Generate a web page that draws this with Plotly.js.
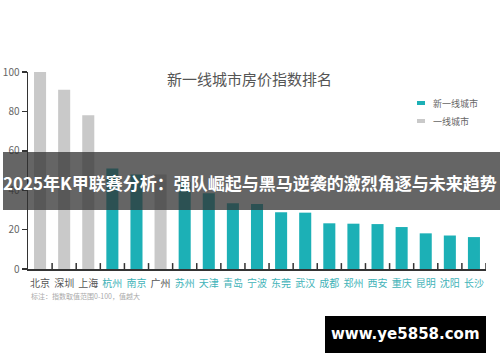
<!DOCTYPE html>
<html>
<head>
<meta charset="utf-8">
<script src="https://cdn.plot.ly/plotly-3.0.1.min.js"></script>
<style>html,body{margin:0;padding:0;background:#fff;}#chart{width:500px;height:362px;}</style>
</head>
<body>
<div id="chart"></div>
<script>
// Data
const cities = ['北京','深圳','上海','杭州','南京','广州','苏州','天津','青岛','宁波','东莞','武汉','成都','郑州','西安','重庆','昆明','沈阳','长沙'];
const tiers = ['一线城市','一线城市','一线城市','新一线城市','新一线城市','一线城市','新一线城市','新一线城市','新一线城市','新一线城市','新一线城市','新一线城市','新一线城市','新一线城市','新一线城市','新一线城市','新一线城市','新一线城市','新一线城市'];
const values = [100, 91, 78, 51, 48, 48, 44.3, 38.4, 33.4, 33, 28.8, 28.6, 23.2, 23, 22.8, 21.3, 18.1, 17, 16.2];
const yTicks = [0, 20, 40, 60, 80, 100];

const TEAL = '#1cb0b6';
const GRAY = '#c9c9c9';
const FONT = 'Noto Sans CJK SC, Noto Sans, sans-serif';

function pick(tier) {
  const x = [], y = [];
  cities.forEach((c, i) => { if (tiers[i] === tier) { x.push(c); y.push(values[i]); } });
  return {x, y};
}
const newT = pick('新一线城市');
const oldT = pick('一线城市');

const traces = [
  {type: 'bar', x: oldT.x, y: oldT.y, name: '一线城市', marker: {color: GRAY}, width: 0.5, hoverinfo: 'x+y'},
  {type: 'bar', x: newT.x, y: newT.y, name: '新一线城市', marker: {color: TEAL}, width: 0.5, hoverinfo: 'x+y'}
];

const tickText = cities.map((c, i) => `<span style="color:${tiers[i] === '一线城市' ? '#555555' : '#3fb3b8'}">${c}</span>`);

const px = (X) => (X - 28) / 458;
const py = (Y) => (269 - Y) / 197;

const layout = {
  width: 500, height: 362,
  margin: {l: 28, r: 14, t: 72, b: 93},
  paper_bgcolor: '#ffffff', plot_bgcolor: '#ffffff',
  showlegend: false,
  barmode: 'overlay',
  font: {family: FONT},
  xaxis: {
    type: 'category', categoryorder: 'array', categoryarray: cities,
    tickvals: cities, ticktext: tickText,
    range: [-0.5, 18.5],
    showline: true, linecolor: '#333', linewidth: 1.5,
    ticks: '', showgrid: false, zeroline: false,
    ticklabelstandoff: 4,
    tickfont: {size: 10, family: FONT},
    fixedrange: true
  },
  yaxis: {
    range: [0, 100], tickvals: yTicks,
    showline: true, linecolor: '#333', linewidth: 1.5,
    ticks: 'outside', ticklen: 5, tickcolor: '#333', tickwidth: 1.5,
    showgrid: false, zeroline: false,
    tickfont: {size: 10, color: '#666', family: FONT},
    fixedrange: true
  },
  shapes: [],
  annotations: [
    {xref: 'paper', yref: 'paper', x: px(249), y: py(91), xanchor: 'center', yanchor: 'bottom', showarrow: false,
     text: '新一线城市房价指数排名', font: {size: 15, color: '#555', family: FONT}}
  ]
};

// category boundary ticks on x axis (pointing up)
for (let i = 0; i < cities.length; i++) {
  layout.shapes.push({type: 'line', xref: 'x', yref: 'paper', x0: i + 0.5, x1: i + 0.5, y0: 0, y1: 0.03, line: {color: '#333', width: 1.5}});
}

// Legend (custom)
layout.shapes.push({type: 'rect', xref: 'paper', yref: 'paper', x0: px(417), x1: px(425), y0: py(105), y1: py(101), fillcolor: TEAL, line: {width: 0}});
layout.shapes.push({type: 'rect', xref: 'paper', yref: 'paper', x0: px(417), x1: px(425), y0: py(123), y1: py(119), fillcolor: GRAY, line: {width: 0}});
layout.annotations.push({xref: 'paper', yref: 'paper', x: px(431), y: py(103), xanchor: 'left', yanchor: 'middle', showarrow: false,
  text: '新一线城市', font: {size: 9, color: '#666', family: FONT}});
layout.annotations.push({xref: 'paper', yref: 'paper', x: px(431), y: py(121), xanchor: 'left', yanchor: 'middle', showarrow: false,
  text: '一线城市', font: {size: 9, color: '#666', family: FONT}});

// Note
layout.annotations.push({xref: 'paper', yref: 'paper', x: px(29), y: py(296), xanchor: 'left', yanchor: 'middle', showarrow: false,
  text: '标注：指数取值范围0-100，值越大', font: {size: 7, color: '#aaa', family: FONT}});

// Overlay band with headline
layout.shapes.push({type: 'rect', xref: 'paper', yref: 'paper', x0: px(3), x1: px(500), y0: py(210), y1: py(152), fillcolor: 'rgba(50,50,50,0.75)', line: {width: 0}, layer: 'above'});
layout.annotations.push({xref: 'paper', yref: 'paper', x: px(250), y: py(182), xanchor: 'center', yanchor: 'middle', showarrow: false,
  text: '<b>2025年K甲联赛分析：强队崛起与黑马逆袭的激烈角逐与未来趋势</b>', font: {size: 17, color: '#ffffff', family: FONT}});

// Watermark
layout.shapes.push({type: 'rect', xref: 'paper', yref: 'paper', x0: px(325), x1: px(486), y0: py(353), y1: py(316), fillcolor: '#000000', line: {width: 0}, layer: 'above'});
layout.annotations.push({xref: 'paper', yref: 'paper', x: px(405), y: py(334), xanchor: 'center', yanchor: 'middle', showarrow: false,
  text: '<b>www.ye5858.com</b>', font: {size: 15, color: '#ffffff', family: 'DejaVu Sans, sans-serif'}});

Plotly.newPlot('chart', traces, layout, {displayModeBar: false, staticPlot: true});
</script>
</body>
</html>
